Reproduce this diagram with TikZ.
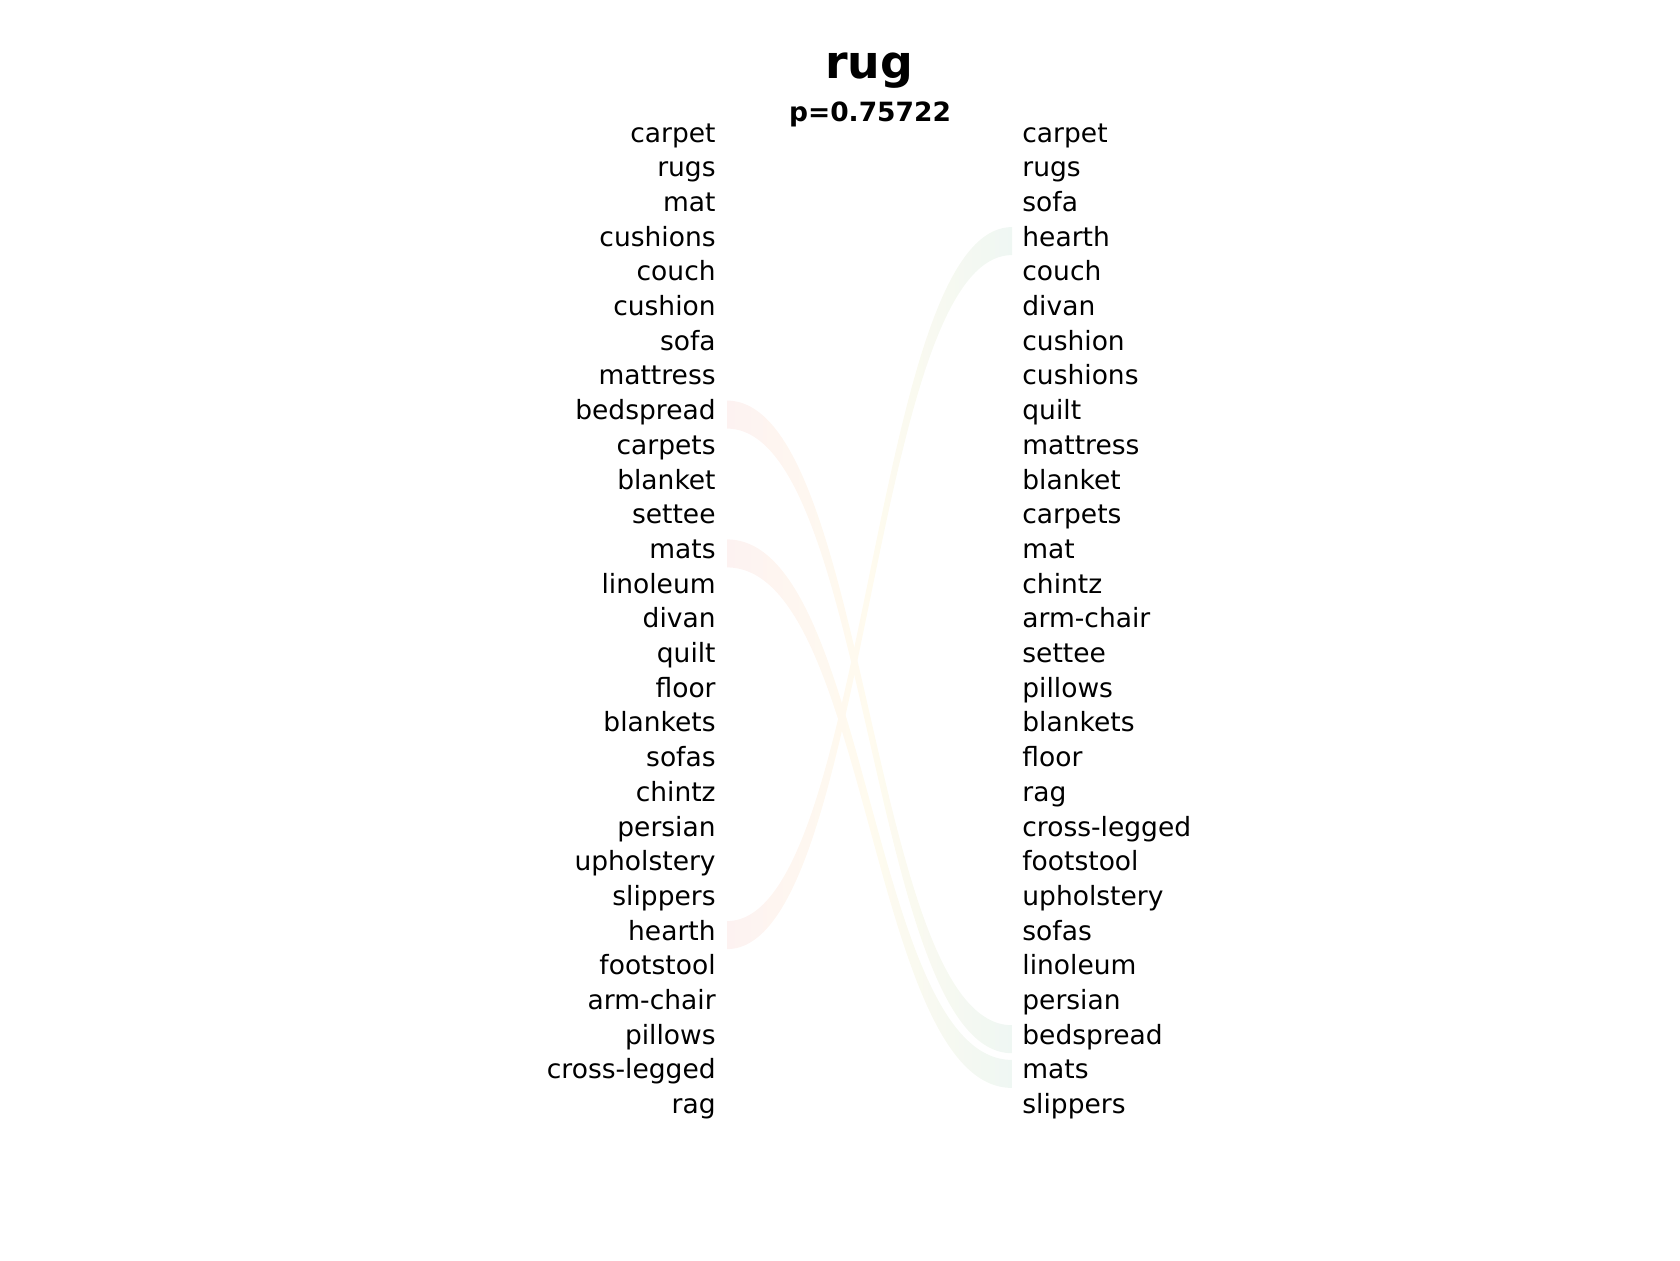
\documentclass[tikz,border=0pt]{standalone}
\usepackage{fontspec}
\setmainfont{DejaVu Sans}
\usetikzlibrary{calc}
\definecolor{ribleft}{RGB}{253,242,241}
\definecolor{ribmid}{RGB}{255,251,239}
\definecolor{ribright}{RGB}{239,247,243}
\tikzset{
  lab/.style={inner sep=0pt, font=\fontsize{13.25pt}{15pt}\selectfont},
  ttl/.style={inner sep=0pt, font=\fontsize{22.9pt}{26pt}\selectfont\bfseries},
  subttl/.style={inner sep=0pt, font=\fontsize{13.25pt}{15pt}\selectfont\bfseries},
  ribbon/.style={left color=ribleft, right color=ribright, middle color=ribmid, draw=none}
}
\newcommand\drawribbon[2]{%
  \coordinate (a1) at ($(#1.base east)+(11,-19)$);
  \coordinate (a2) at ($(#1.base east)+(11,9)$);
  \coordinate (b1) at ($(#2.base west)+(-10,-19)$);
  \coordinate (b2) at ($(#2.base west)+(-10,9)$);
  \coordinate (mm) at ($(a1)!0.5!(b1)$);
  \shade[ribbon] (a1) .. controls (mm|-a1) and (mm|-b1) .. (b1) -- (b2)
    .. controls (mm|-b2) and (mm|-a2) .. (a2) -- cycle;
}
\begin{document}
\begin{tikzpicture}[x=0.5pt,y=-0.5pt]
\useasboundingbox (0,0) rectangle (1680,1260);
\node[ttl, anchor=base] (title) at (869,78) {rug};
\node[subttl, anchor=base] (pval) at (870,121) {p=0.75722};
\foreach \w [count=\i from 0] in {carpet,rugs,mat,cushions,couch,cushion,sofa,mattress,bedspread,carpets,blanket,settee,mats,linoleum,divan,quilt,floor,blankets,sofas,chintz,persian,upholstery,slippers,hearth,footstool,arm-chair,pillows,cross-legged,rag}
  \node[lab, anchor=base east] (L\i) at (716,{142+\i*34.7}) {\w};
\foreach \w [count=\i from 0] in {carpet,rugs,sofa,hearth,couch,divan,cushion,cushions,quilt,mattress,blanket,carpets,mat,chintz,arm-chair,settee,pillows,blankets,floor,rag,cross-legged,footstool,upholstery,sofas,linoleum,persian,bedspread,mats,slippers}
  \node[lab, anchor=base west] (R\i) at (1022,{142+\i*34.7}) {\w};
\drawribbon{L8}{R26}
\drawribbon{L12}{R27}
\drawribbon{L23}{R3}
\end{tikzpicture}
\end{document}
